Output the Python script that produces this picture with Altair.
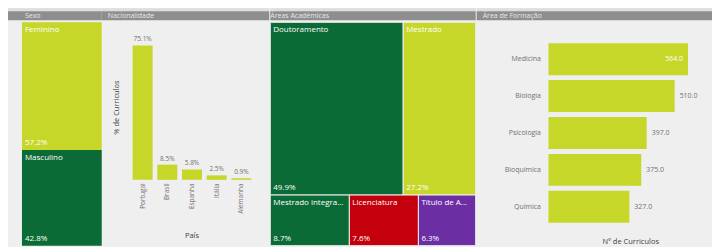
import altair as alt
import pandas as pd

# ---------------- data ----------------
sexo_cat = ["Feminino", "Masculino"]
sexo_pct = [57.2, 42.8]
sexo_row = [0, 1]

pais_cat = ["Portugal", "Brasil", "Espanha", "Itália", "Alemanha"]
pais_pct = [75.1, 8.5, 5.8, 2.5, 0.9]

grau_cat = ["Doutoramento", "Mestrado", "Mestrado integrado", "Licenciatura", "Título de Agregado"]
grau_pct = [49.9, 27.2, 8.7, 7.6, 6.3]
grau_row = [0, 0, 1, 1, 1]

area_cat = ["Medicina", "Biologia", "Psicologia", "Bioquímica", "Química"]
area_n = [564, 510, 397, 375, 327]

panel_titles = ["Sexo", "Nacionalidade", "Áreas Académicas", "Área de Formação"]

# ---------------- style ----------------
LIME = "#c6d72a"
GREEN = "#0b6b36"
RED = "#c3000c"
PURPLE = "#6c2ea3"
BG = "#efefef"
HEAD = "#8e8e8e"
FONT = "Open Sans"
LBL = "#707070"
TTL = "#404040"


def treemap_rows(cats, vals, rows):
    total = sum(vals)
    recs = []
    y = 0.0
    for r in sorted(set(rows)):
        idx = [i for i in range(len(cats)) if rows[i] == r]
        rs = sum(vals[i] for i in idx)
        h = rs / total
        x = 0.0
        for i in idx:
            w = vals[i] / rs
            recs.append(dict(cat=cats[i], pct=vals[i], x0=x, x1=x + w, y0=y, y1=y + h))
            x += w
        y += h
    return pd.DataFrame(recs)


def header(w, left, right, title, dx):
    d = pd.DataFrame({"k": [0]})
    strip = alt.Chart(d).mark_rect(color="#dedede").encode(
        x=alt.value(-left), x2=alt.value(w + right), y=alt.value(-14), y2=alt.value(-11))
    bar = alt.Chart(d).mark_rect(color=HEAD).encode(
        x=alt.value(-left), x2=alt.value(w + right), y=alt.value(-11), y2=alt.value(-2))
    txt = alt.Chart(d).mark_text(align="left", baseline="middle", fontSize=7,
                                 color="#e8e8e8").encode(
        x=alt.value(dx), y=alt.value(-6.5), text=alt.value(title))
    return [strip, bar, txt]


def treemap_panel(cats, vals, rows, colors, W, H, left, right, title, dx, stroke):
    df = treemap_rows(cats, vals, rows)
    xs = alt.Scale(domain=[0, 1], nice=False, zero=False)
    ys = alt.Scale(domain=[0, 1], nice=False, zero=False, reverse=True)
    base = alt.Chart(df).transform_calculate(
        label="format(datum.pct, '.1f') + '%'",
        lim=f"(datum.x1 - datum.x0) * {W} - 8",
    )
    rect = base.mark_rect(stroke=BG if stroke else None, strokeWidth=1 if stroke else 0).encode(
        x=alt.X("x0:Q", scale=xs, axis=None), x2="x1:Q",
        y=alt.Y("y0:Q", scale=ys, axis=None), y2="y1:Q",
        color=alt.Color("cat:N", scale=alt.Scale(domain=cats, range=colors), legend=None),
    )
    names = base.mark_text(align="left", baseline="top", dx=3, dy=4, color="white",
                           fontSize=8, ellipsis="...",
                           limit=alt.ExprRef(expr="datum.lim")).encode(
        x="x0:Q", y="y0:Q", text="cat:N")
    pcts = base.mark_text(align="left", baseline="bottom", dx=3, dy=-3, color="white",
                          fontSize=8).encode(x="x0:Q", y="y1:Q", text="label:N")
    return alt.layer(*header(W, left, right, title, dx), rect, names, pcts).properties(
        width=W, height=H)


# ---------- panel 1: Sexo ----------
p1 = treemap_panel(sexo_cat, sexo_pct, sexo_row, [LIME, GREEN], 80, 224, 14, 0,
                   panel_titles[0], 3, False)

# ---------- panel 2: Nacionalidade ----------
W2, H2 = 156, 158
df2 = pd.DataFrame({"pais": pais_cat, "pct": pais_pct})
b2 = alt.Chart(df2).transform_calculate(label="format(datum.pct, '.1f') + '%'")
x2 = alt.X("pais:N", sort=pais_cat,
           scale=alt.Scale(paddingInner=0.19, paddingOuter=0.746, align=0.514),
           axis=alt.Axis(title="País", labelAngle=270, ticks=False, domain=False, labelPadding=3,
                         labelFontSize=6.5, labelColor=LBL, titleFontSize=7.5, titleColor=TTL,
                         titleFontWeight="normal", titleY=52, titleBaseline="top"))
y2 = alt.Y("pct:Q", scale=alt.Scale(domain=[0, 88], nice=False),
           axis=alt.Axis(title="% de Curriculos", labels=False, ticks=False, domain=False,
                         grid=False, titleX=7, titleY=85, titleFontSize=7.5, titleColor=TTL,
                         titleFontWeight="normal"))
bars2 = b2.mark_bar(color=LIME).encode(x=x2, y=y2)
txt2 = b2.mark_text(baseline="bottom", dy=-3, fontSize=6.5, color=LBL).encode(
    x=alt.X("pais:N", sort=pais_cat), y="pct:Q", text="label:N")
p2 = alt.layer(*header(W2, 12, 0, panel_titles[1], -6), bars2, txt2).properties(
    width=W2, height=H2)

# ---------- panel 3: Áreas Académicas ----------
p3 = treemap_panel(grau_cat, grau_pct, grau_row, [GREEN, LIME, GREEN, RED, PURPLE],
                   206, 224, 0, 0, panel_titles[2], 0, True)

# ---------- panel 4: Área de Formação ----------
W4, H4 = 164, 210
df4 = pd.DataFrame({"area": area_cat, "n": area_n})
df4["inside"] = df4["n"] == df4["n"].max()
b4 = alt.Chart(df4)
y4 = alt.Y("area:N", sort=area_cat,
           scale=alt.Scale(paddingInner=0.135, paddingOuter=0.405, align=0.7),
           axis=alt.Axis(title=None, ticks=False, domain=False, labelPadding=8,
                         labelFontSize=7, labelColor=LBL))
x4 = alt.X("n:Q", scale=alt.Scale(domain=[0, 661], nice=False),
           axis=alt.Axis(title="Nº de Curriculos", labels=False, ticks=False, domain=False,
                         grid=False, titleY=6, titleBaseline="top", titleFontSize=7.5,
                         titleColor=TTL, titleFontWeight="normal"))
bars4 = b4.mark_bar(color=LIME).encode(x=x4, y=y4)
txt_in = b4.transform_filter("datum.inside").mark_text(
    align="right", dx=-5, fontSize=7, color="white").encode(
    x="n:Q", y=alt.Y("area:N", sort=area_cat), text=alt.Text("n:Q", format=".1f"))
txt_out = b4.transform_filter("!datum.inside").mark_text(
    align="left", dx=5, fontSize=7, color=LBL).encode(
    x="n:Q", y=alt.Y("area:N", sort=area_cat), text=alt.Text("n:Q", format=".1f"))
p4 = alt.layer(*header(W4, 72, 0, panel_titles[3], -66), bars4, txt_in, txt_out).properties(
    width=W4, height=H4)

chart = alt.hconcat(p1, p2, p3, p4, spacing=0).resolve_scale(
    color="independent", x="independent", y="independent"
).configure(
    font=FONT, background=BG, padding=0
).configure_view(stroke=None)

chart.save("out.html", embed_options={"renderer": "svg", "actions": False})
